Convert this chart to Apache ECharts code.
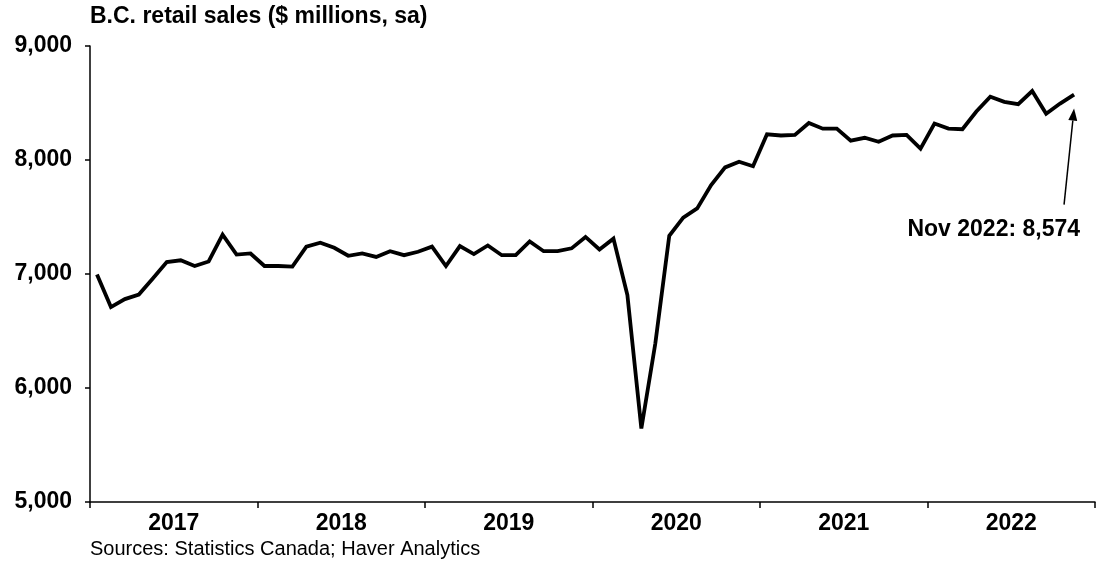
<!DOCTYPE html>
<html>
<head>
<meta charset="utf-8">
<title>B.C. retail sales</title>
<script src="https://cdn.jsdelivr.net/npm/echarts@6/dist/echarts.min.js"></script>
<style>
  html, body { margin: 0; padding: 0; background: #ffffff; }
  #chart { width: 1097px; height: 565px; }
</style>
</head>
<body>
<div id="chart"></div>
<script>
// Calendar years shown under the axis, and month names used to build the monthly categories
const years = ['2017', '2018', '2019', '2020', '2021', '2022'];
const monthNames = ['Jan', 'Feb', 'Mar', 'Apr', 'May', 'Jun', 'Jul', 'Aug', 'Sep', 'Oct', 'Nov', 'Dec'];

// B.C. retail sales, $ millions, seasonally adjusted (Jan 2017 - Nov 2022)
const sales2017 = [6995, 6710, 6780, 6820, 6960, 7105, 7120, 7070, 7110, 7345, 7170, 7180];
const sales2018 = [7070, 7070, 7065, 7240, 7275, 7230, 7160, 7180, 7150, 7200, 7165, 7195];
const sales2019 = [7240, 7070, 7245, 7175, 7250, 7165, 7165, 7285, 7200, 7200, 7225, 7325];
const sales2020 = [7215, 7310, 6815, 5645, 6390, 7335, 7495, 7575, 7780, 7935, 7985, 7945];
const sales2021 = [8225, 8215, 8220, 8325, 8275, 8275, 8170, 8195, 8160, 8215, 8220, 8100];
const sales2022 = [8320, 8275, 8270, 8425, 8555, 8510, 8490, 8605, 8405, 8495, 8574];

// Value axis ticks
const yMin = 5000, yMax = 9000, yStep = 1000;

const months = years.flatMap(y => monthNames.map(m => m + ' ' + y));
const sales = [].concat(sales2017, sales2018, sales2019, sales2020, sales2021, sales2022);

const FONT = 'Arial, "Liberation Sans", Helvetica, sans-serif';
const fmt = v => Math.round(v).toLocaleString('en-US');

const titleText = {
  type: 'text', left: 90, top: 5,
  style: { text: 'B.C. retail sales ($ millions, sa)', fill: '#000', font: 'bold 23px ' + FONT }
};
const sourceText = {
  type: 'text', left: 90, top: 539,
  style: { text: 'Sources: Statistics Canada; Haver Analytics', fill: '#000', font: '20px ' + FONT }
};

const chart = echarts.init(document.getElementById('chart'), null, { renderer: 'canvas' });

chart.setOption({
  animation: false,
  backgroundColor: '#ffffff',
  grid: { left: 90, right: 2, top: 46, bottom: 63, containLabel: false, outerBoundsMode: 'none' },
  xAxis: [
    {
      type: 'category',
      data: months,
      boundaryGap: true,
      axisLine: { show: true, lineStyle: { color: '#000', width: 1.5 } },
      axisTick: { show: true, interval: 11, length: 6, inside: false, lineStyle: { color: '#000', width: 1.5 } },
      axisLabel: { show: false },
      splitLine: { show: false }
    },
    {
      type: 'category',
      data: years,
      position: 'bottom',
      boundaryGap: true,
      axisLine: { show: false },
      axisTick: { show: false },
      axisLabel: { show: true, margin: 10, color: '#000', fontFamily: FONT, fontWeight: 'bold', fontSize: 23 },
      splitLine: { show: false }
    }
  ],
  yAxis: {
    type: 'value',
    min: yMin,
    max: yMax,
    interval: yStep,
    axisLine: { show: true, lineStyle: { color: '#000', width: 1.5 } },
    axisTick: { show: true, length: 5, inside: false, lineStyle: { color: '#000', width: 1.5 } },
    axisLabel: { show: true, margin: 18, color: '#000', fontFamily: FONT, fontWeight: 'bold', fontSize: 23, formatter: v => fmt(v) },
    splitLine: { show: false }
  },
  series: [{
    type: 'line',
    xAxisIndex: 0,
    yAxisIndex: 0,
    data: sales,
    symbol: 'none',
    smooth: false,
    lineStyle: { color: '#000', width: 3.8, join: 'miter', miterLimit: 4 }
  }],
  graphic: [titleText, sourceText]
});

// Callout for the latest month, anchored to the last data point
const lastIdx = sales.length - 1;
const lastVal = sales[lastIdx];
const [px, py] = chart.convertToPixel({ xAxisIndex: 0, yAxisIndex: 0 }, [lastIdx, lastVal]);

const tip = [px, py + 14];
const tail = [px - 10, py + 110];
const dx = tip[0] - tail[0], dy = tip[1] - tail[1];
const len = Math.sqrt(dx * dx + dy * dy);
const ux = dx / len, uy = dy / len;
const headLen = 12, headHalf = 4.5;
const base = [tip[0] - ux * headLen, tip[1] - uy * headLen];

chart.setOption({
  graphic: [
    titleText,
    sourceText,
    {
      type: 'line',
      shape: { x1: tail[0], y1: tail[1], x2: base[0], y2: base[1] },
      style: { stroke: '#000', lineWidth: 1.5 }
    },
    {
      type: 'polygon',
      shape: { points: [
        tip,
        [base[0] - uy * headHalf, base[1] + ux * headHalf],
        [base[0] + uy * headHalf, base[1] - ux * headHalf]
      ] },
      style: { fill: '#000' }
    },
    {
      type: 'text',
      x: px + 6, y: py + 135,
      style: {
        text: months[lastIdx] + ': ' + fmt(lastVal),
        fill: '#000', font: 'bold 23px ' + FONT,
        align: 'right', verticalAlign: 'middle'
      }
    }
  ]
}, { replaceMerge: ['graphic'] });
</script>
</body>
</html>
